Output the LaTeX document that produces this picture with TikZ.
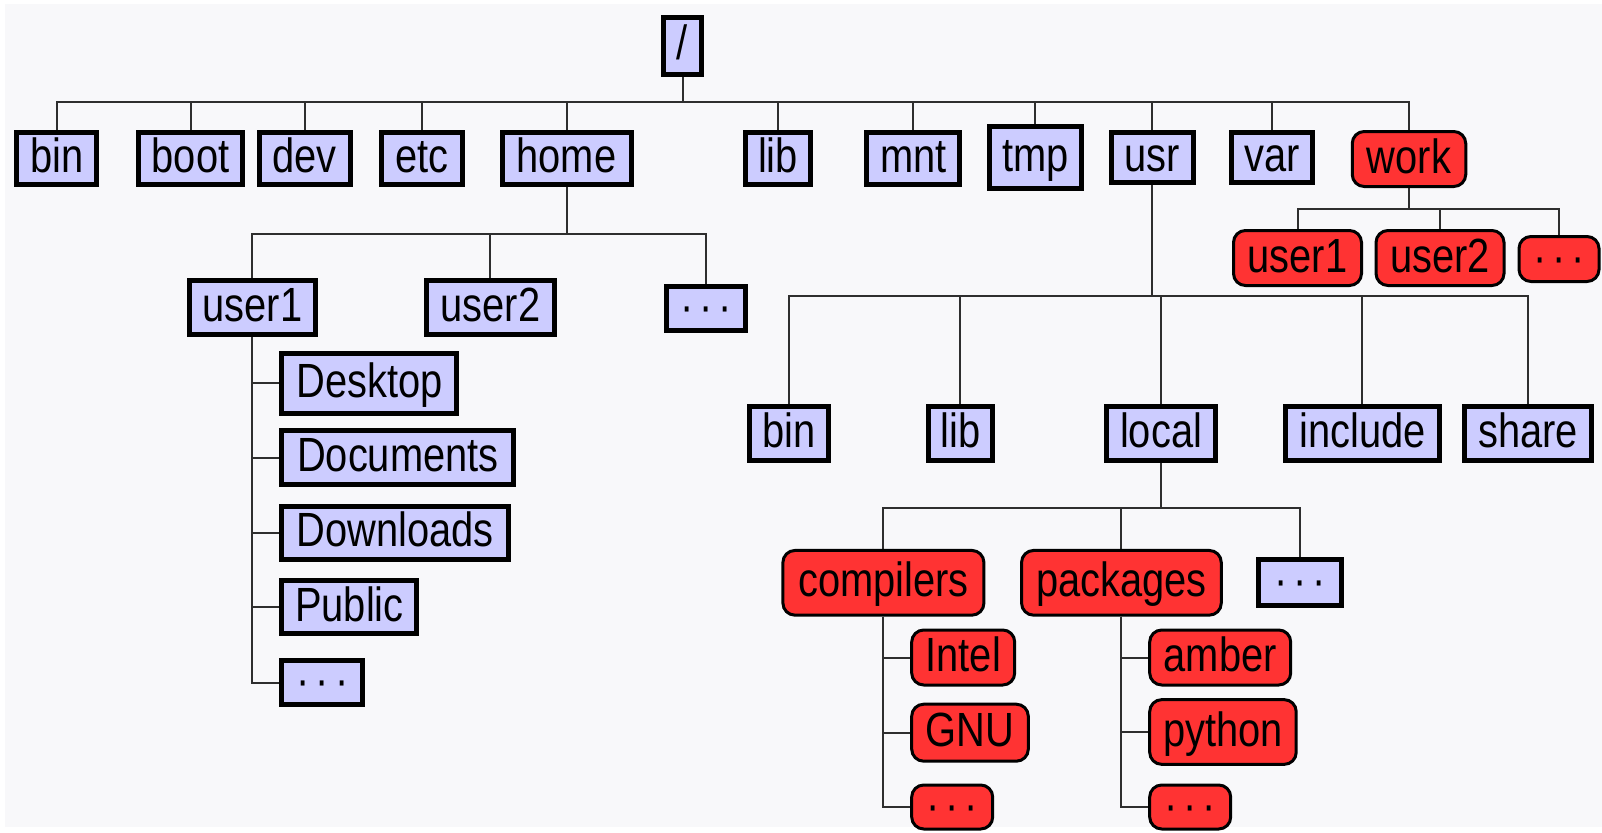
\documentclass[tikz,border=0pt]{standalone}
\usepackage{fontspec}
\setmainfont{Liberation Sans}[FakeStretch=0.83]
\usetikzlibrary{backgrounds}
\definecolor{bgpage}{HTML}{F8F8FA}
\definecolor{dirblue}{HTML}{CCCCFF}
\definecolor{dirred}{HTML}{FF3333}
\definecolor{wire}{HTML}{2E2E2E}
\newcommand{\moredirs}{·\hspace{6pt}·\hspace{6pt}·}

\begin{document}
\begin{tikzpicture}[x=1pt,y=-1pt,
  label font/.style={font=\fontsize{48}{56}\selectfont, text height=36pt, text depth=8pt, inner sep=0pt},
  dirbox/.style={label font, draw=black, fill=dirblue, line width=5pt},
  workbox/.style={label font, draw=black, fill=dirred, line width=3pt, rounded corners=12pt},
  conn/.style={draw=wire, line width=2pt},
  sz/.style 2 args={minimum width=#1pt, minimum height=#2pt}
]
\useasboundingbox (0,0) rectangle (1602,832);

% bus levels
\coordinate (rootbus) at (0,102.5);
\coordinate (workbus) at (0,209);
\coordinate (homebus) at (0,234);
\coordinate (usrbus) at (0,296.3);
\coordinate (localbus) at (0,507.7);

% root
\node[dirbox, sz={38}{57}] (root) at (682.5,46) {/};

% first level
\node[dirbox, sz={80}{52}]  (bin)  at (56.7,158.4)  {bin};
\node[dirbox, sz={104}{52}] (boot) at (190.5,158.4) {boot};
\node[dirbox, sz={91}{52}]  (dev)  at (304.5,158.4) {dev};
\node[dirbox, sz={81}{52}]  (etc)  at (422,158.4)   {etc};
\node[dirbox, sz={129}{52}] (home) at (566.5,158.4) {home};
\node[dirbox, sz={65.5}{52}] (lib) at (778,158.4)   {lib};
\node[dirbox, sz={93}{52}]  (mnt)  at (913.4,158.4) {mnt};
\node[dirbox, sz={92}{62}]  (tmp)  at (1035.4,157.3) {tmp};
\node[dirbox, sz={82}{50}]  (usr)  at (1152,157.4)  {usr};
\node[dirbox, sz={81}{50}]  (var)  at (1272,157.4)  {var};
\node[workbox, sz={113.5}{55}] (work) at (1409,159) {work};

% /work
\node[workbox, sz={128}{55}] (wuserA) at (1297.5,258) {user1};
\node[workbox, sz={128}{55}] (wuserB) at (1440,258)   {user2};
\node[workbox, sz={80}{45}]  (wmore)  at (1559,259)   {\moredirs};

% /home
\node[dirbox, sz={126}{54}] (huserA) at (252.4,307.5) {user1};
\node[dirbox, sz={128}{54}] (huserB) at (490.4,307.5) {user2};
\node[dirbox, sz={79}{42}]  (hmore)  at (706,308.5)   {\moredirs};

% /home/user1
\node[dirbox, sz={175}{60}, anchor=west] (desk)  at (279.4,383)   {Desktop};
\node[dirbox, sz={232}{54}, anchor=west] (docs)  at (279.4,457.7) {Documents};
\node[dirbox, sz={227}{53}, anchor=west] (down)  at (279.4,532.8) {Downloads};
\node[dirbox, sz={135}{53}, anchor=west] (pub)   at (279.4,607.4) {Public};
\node[dirbox, sz={81}{42},  anchor=west] (umore) at (279.4,682.5) {\moredirs};

% /usr
\node[dirbox, sz={79}{54}]    (ubin)  at (788.7,433.2)  {bin};
\node[dirbox, sz={64.5}{54}]  (ulib)  at (960.4,433.2)  {lib};
\node[dirbox, sz={108.4}{54}] (local) at (1161.1,433.2) {local};
\node[dirbox, sz={153.4}{54}] (incl)  at (1362.4,433.2) {include};
\node[dirbox, sz={126.8}{54}] (share) at (1527.9,433.2) {share};

% /usr/local
\node[workbox, sz={201}{64.7}]   (comp)  at (883.4,582.8)  {compilers};
\node[workbox, sz={199.7}{64.7}] (pack)  at (1121.4,582.8) {packages};
\node[dirbox, sz={82.5}{46}]     (lmore) at (1300,582.8)   {\moredirs};

% /usr/local/compilers
\node[workbox, sz={103}{55},   anchor=west] (intel) at (910.2,657.5) {Intel};
\node[workbox, sz={116.6}{57}, anchor=west] (gnu)   at (910.2,732.7) {GNU};
\node[workbox, sz={81}{44},    anchor=west] (cmore) at (910.2,807)   {\moredirs};

% /usr/local/packages
\node[workbox, sz={141}{55},   anchor=west] (amber)  at (1148.2,657.5) {amber};
\node[workbox, sz={146.5}{64.7}, anchor=west] (python) at (1148.2,732) {python};
\node[workbox, sz={81}{44},    anchor=west] (pmore)  at (1148.2,807)   {\moredirs};

\begin{scope}[on background layer]
  \fill[bgpage] (5,4) rectangle (1602,827);
  \foreach \c in {bin,boot,dev,etc,home,lib,mnt,tmp,usr,var,work}
    \draw[conn] (root.south) -- (root.south |- rootbus) -| (\c.north);
  \foreach \c in {wuserA,wuserB,wmore}
    \draw[conn] (work.south) -- (work.south |- workbus) -| (\c.north);
  \foreach \c in {huserA,huserB,hmore}
    \draw[conn] (home.south) -- (home.south |- homebus) -| (\c.north);
  \foreach \c in {desk,docs,down,pub,umore}
    \draw[conn] (huserA.south) |- (\c.west);
  \foreach \c in {ubin,ulib,local,incl,share}
    \draw[conn] (usr.south) -- (usr.south |- usrbus) -| (\c.north);
  \foreach \c in {comp,pack,lmore}
    \draw[conn] (local.south) -- (local.south |- localbus) -| (\c.north);
  \foreach \c in {intel,gnu,cmore}
    \draw[conn] (comp.south) |- (\c.west);
  \foreach \c in {amber,python,pmore}
    \draw[conn] (pack.south) |- (\c.west);
\end{scope}
\end{tikzpicture}
\end{document}
